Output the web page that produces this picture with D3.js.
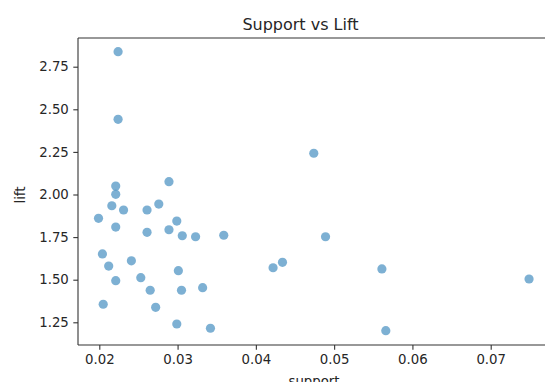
<!DOCTYPE html>
<html>
<head>
<meta charset="utf-8">
<script src="https://cdn.jsdelivr.net/npm/d3@7"></script>
<style>
  body { margin: 0; background: #fff; }
  text { font-family: "DejaVu Sans", sans-serif; fill: #262626; }
</style>
</head>
<body>
<svg id="chart"></svg>
<script>
const support = [
  0.0224, 0.0224, 0.0221, 0.0221, 0.0289, 0.0216, 0.0231, 0.0261, 0.0276,
  0.0199, 0.0221, 0.0261, 0.0289, 0.0299, 0.0306, 0.0323, 0.0359, 0.0204,
  0.0212, 0.0241, 0.0221, 0.0253, 0.0301, 0.0265, 0.0305, 0.0332, 0.0205,
  0.0272, 0.0299, 0.0342, 0.0422, 0.0434, 0.0474, 0.0489, 0.0561, 0.0749,
  0.0566
];
const lift = [
  2.838, 2.441, 2.050, 2.001, 2.075, 1.934, 1.909, 1.909, 1.944,
  1.860, 1.809, 1.778, 1.793, 1.844, 1.758, 1.752, 1.761, 1.651,
  1.580, 1.611, 1.494, 1.512, 1.553, 1.438, 1.438, 1.453, 1.356,
  1.338, 1.240, 1.215, 1.570, 1.602, 2.242, 1.752, 1.563, 1.504,
  1.201
];
const xTicks = [0.02, 0.03, 0.04, 0.05, 0.06, 0.07];
const yTicks = [1.25, 1.50, 1.75, 2.00, 2.25, 2.50, 2.75];

const width = 545, height = 382;
const padLeft = 78, padTop = 38, axisBottomY = 345;

const svg = d3.select("#chart").attr("width", width).attr("height", height);

// axes run past the right edge of the window, as in the picture
const x = d3.scaleLinear().domain([0.02, 0.07]).range([99.3, 490.7]);
const y = d3.scaleLinear().domain([1.25, 2.75]).range([322.3, 66.7]);

const plot = svg.append("g");

plot.selectAll("circle")
  .data(support.map((s, i) => ({ s, l: lift[i] })))
  .enter()
  .append("circle")
  .attr("cx", d => x(d.s))
  .attr("cy", d => y(d.l))
  .attr("r", 4.6)
  .attr("fill", "#1f77b4")
  .attr("fill-opacity", 0.58);

const xAxis = d3.axisBottom(x).tickValues(xTicks).tickFormat(d3.format(".2f"))
  .tickSize(4.7).tickPadding(4.5).tickSizeOuter(0);
const yAxis = d3.axisLeft(y).tickValues(yTicks).tickFormat(d3.format(".2f"))
  .tickSize(4.7).tickPadding(4.5).tickSizeOuter(0);

const gx = svg.append("g").attr("transform", `translate(0,${axisBottomY})`).call(xAxis);
const gy = svg.append("g").attr("transform", `translate(${padLeft},0)`).call(yAxis);

[gx, gy].forEach(g => {
  g.select(".domain").remove();
  g.selectAll(".tick line").attr("stroke", "#333").attr("stroke-width", 1.1);
  g.selectAll(".tick text").style("font-size", "13.3px").attr("fill", "#262626");
});

// spines: left, top, bottom (right one is off-screen)
svg.append("line").attr("x1", padLeft).attr("x2", padLeft).attr("y1", padTop).attr("y2", axisBottomY)
  .attr("stroke", "#333").attr("stroke-width", 1.1);
svg.append("line").attr("x1", padLeft).attr("x2", width + 5).attr("y1", padTop).attr("y2", padTop)
  .attr("stroke", "#333").attr("stroke-width", 1.1);
svg.append("line").attr("x1", padLeft).attr("x2", width + 5).attr("y1", axisBottomY).attr("y2", axisBottomY)
  .attr("stroke", "#333").attr("stroke-width", 1.1);

svg.append("text")
  .attr("x", 300.5).attr("y", 30)
  .attr("text-anchor", "middle")
  .style("font-size", "16px")
  .text("Support vs Lift");

svg.append("text")
  .attr("x", 314).attr("y", 386)
  .attr("text-anchor", "middle")
  .style("font-size", "13.3px")
  .text("support");

svg.append("text")
  .attr("transform", "translate(25,195) rotate(-90)")
  .attr("text-anchor", "middle")
  .style("font-size", "13.3px")
  .text("lift");
</script>
</body>
</html>
